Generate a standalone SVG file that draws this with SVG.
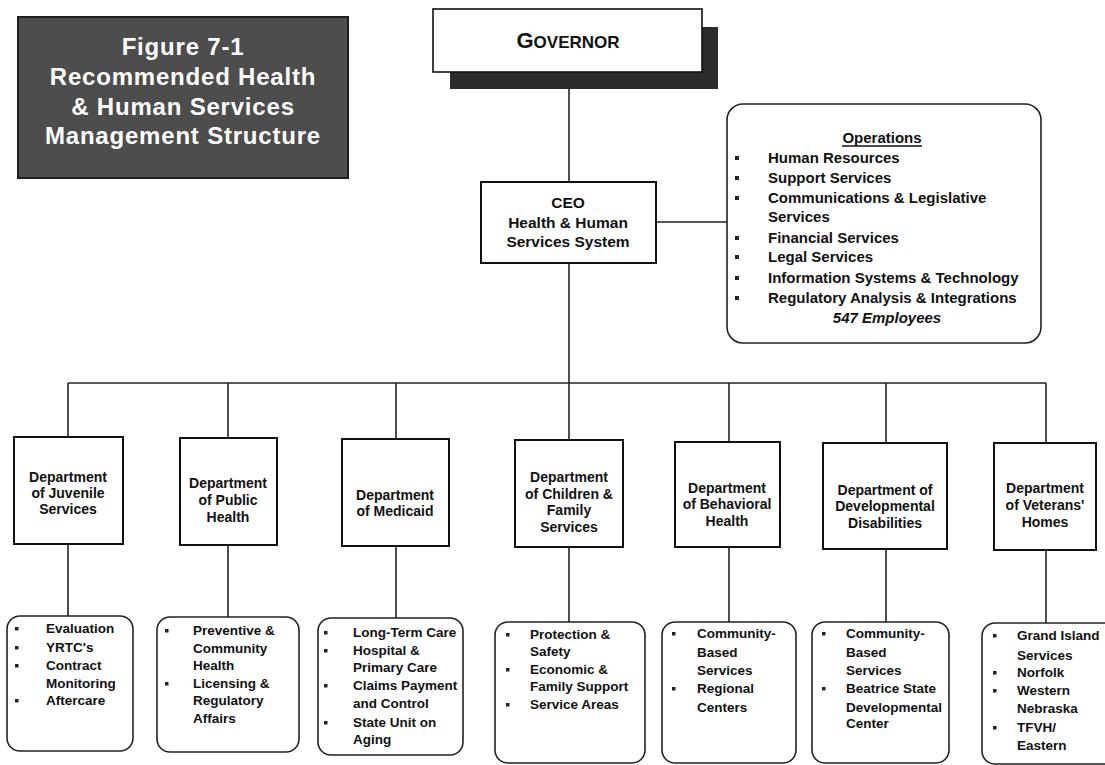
<svg xmlns="http://www.w3.org/2000/svg" width="1105" height="765" viewBox="0 0 1105 765">
<style>
text{font-family:"Liberation Sans",Arial,sans-serif;font-weight:bold;fill:#111}
.ttl{fill:#fff;font-size:24px;letter-spacing:0.8px;text-anchor:middle}
.c{text-anchor:middle}
.ceo{font-size:15.5px}
.ops{font-size:15px}
.dept{font-size:14px;text-anchor:middle}
.it{font-size:13.5px}
.box{fill:#fff;stroke:#111;stroke-width:2}
.rbox{fill:#fff;stroke:#222;stroke-width:1.6}
.ln{stroke:#222;stroke-width:1.6;fill:none}
.b{fill:#222}
</style>
<rect width="1105" height="765" fill="#fff"/>

<g id="connectors">
<line class="ln" x1="569" y1="89" x2="569" y2="182"/>
<line class="ln" x1="656" y1="222" x2="727" y2="222"/>
<line class="ln" x1="569" y1="263" x2="569" y2="383"/>
<line class="ln" x1="68" y1="383" x2="1046" y2="383"/>
<line class="ln" x1="68" y1="383" x2="68" y2="437"/>
<line class="ln" x1="228" y1="383" x2="228" y2="438"/>
<line class="ln" x1="396" y1="383" x2="396" y2="439"/>
<line class="ln" x1="569" y1="383" x2="569" y2="440"/>
<line class="ln" x1="729" y1="383" x2="729" y2="442"/>
<line class="ln" x1="886" y1="383" x2="886" y2="443"/>
<line class="ln" x1="1046" y1="383" x2="1046" y2="443"/>
<line class="ln" x1="68" y1="544" x2="68" y2="616"/>
<line class="ln" x1="228" y1="545" x2="228" y2="617"/>
<line class="ln" x1="396" y1="546" x2="396" y2="618"/>
<line class="ln" x1="569" y1="547" x2="569" y2="622"/>
<line class="ln" x1="729" y1="547" x2="729" y2="622"/>
<line class="ln" x1="886" y1="549" x2="886" y2="622"/>
<line class="ln" x1="1046" y1="550" x2="1046" y2="623"/>
</g>

<g id="title">
<rect x="18" y="17" width="330" height="161" fill="#4d4d4d" stroke="#1e1e1e" stroke-width="2"/>
<text class="ttl" x="183" y="55">Figure 7-1</text>
<text class="ttl" x="183" y="85">Recommended Health</text>
<text class="ttl" x="183" y="115">&amp; Human Services</text>
<text class="ttl" x="183" y="144">Management Structure</text>
</g>

<g id="governor">
<rect x="450" y="27" width="268" height="62" fill="#2b2b2b"/>
<rect x="433" y="9" width="269" height="63" fill="#fff" stroke="#111" stroke-width="1.6"/>
<text class="c" x="568" y="48" font-size="17"><tspan font-size="22">G</tspan>OVERNOR</text>
</g>

<g id="ceo">
<rect class="box" x="481" y="182" width="175" height="81"/>
<text class="c ceo" x="568" y="208">CEO</text>
<text class="c ceo" x="568" y="228">Health &amp; Human</text>
<text class="c ceo" x="568" y="247">Services System</text>
</g>

<g id="operations">
<rect class="rbox" x="727" y="104" width="314" height="239" rx="16"/>
<text class="c ops" x="882" y="143">Operations</text>
<line x1="842" y1="146" x2="922" y2="146" stroke="#111" stroke-width="1.3"/>
<rect class="b" x="735" y="156" width="4" height="4"/><text class="ops" x="768" y="163">Human Resources</text>
<rect class="b" x="735" y="176" width="4" height="4"/><text class="ops" x="768" y="183">Support Services</text>
<rect class="b" x="735" y="196" width="4" height="4"/><text class="ops" x="768" y="203">Communications &amp; Legislative</text>
<text class="ops" x="768" y="222">Services</text>
<rect class="b" x="735" y="236" width="4" height="4"/><text class="ops" x="768" y="243">Financial Services</text>
<rect class="b" x="735" y="255" width="4" height="4"/><text class="ops" x="768" y="262">Legal Services</text>
<rect class="b" x="735" y="276" width="4" height="4"/><text class="ops" x="768" y="283">Information Systems &amp; Technology</text>
<rect class="b" x="735" y="296" width="4" height="4"/><text class="ops" x="768" y="303">Regulatory Analysis &amp; Integrations</text>
<text class="c ops" x="887" y="323" font-style="italic">547 Employees</text>
</g>

<g id="dept-juvenile">
<rect class="box" x="14" y="437" width="109" height="107"/>
<text class="dept" x="68" y="482">Department</text>
<text class="dept" x="68" y="498">of Juvenile</text>
<text class="dept" x="68" y="514">Services</text>
</g>
<g id="dept-public-health">
<rect class="box" x="180" y="438" width="97" height="107"/>
<text class="dept" x="228" y="488">Department</text>
<text class="dept" x="228" y="505">of Public</text>
<text class="dept" x="228" y="522">Health</text>
</g>
<g id="dept-medicaid">
<rect class="box" x="342" y="439" width="107" height="107"/>
<text class="dept" x="395" y="500">Department</text>
<text class="dept" x="395" y="516">of Medicaid</text>
</g>
<g id="dept-children">
<rect class="box" x="515" y="440" width="108" height="107"/>
<text class="dept" x="569" y="482">Department</text>
<text class="dept" x="569" y="499">of Children &amp;</text>
<text class="dept" x="569" y="515">Family</text>
<text class="dept" x="569" y="532">Services</text>
</g>
<g id="dept-behavioral">
<rect class="box" x="675" y="442" width="105" height="105"/>
<text class="dept" x="727" y="493">Department</text>
<text class="dept" x="727" y="509">of Behavioral</text>
<text class="dept" x="727" y="526">Health</text>
</g>
<g id="dept-developmental">
<rect class="box" x="823" y="443" width="124" height="106"/>
<text class="dept" x="885" y="495">Department of</text>
<text class="dept" x="885" y="511">Developmental</text>
<text class="dept" x="885" y="528">Disabilities</text>
</g>
<g id="dept-veterans">
<rect class="box" x="994" y="443" width="102" height="107"/>
<text class="dept" x="1045" y="493">Department</text>
<text class="dept" x="1045" y="510">of Veterans'</text>
<text class="dept" x="1045" y="527">Homes</text>
</g>

<g id="list-juvenile">
<rect class="rbox" x="7" y="616" width="126" height="135" rx="13"/>
<rect class="b" x="15" y="627" width="3.5" height="3.5"/><text class="it" x="46" y="633">Evaluation</text>
<rect class="b" x="15" y="646" width="3.5" height="3.5"/><text class="it" x="46" y="652">YRTC's</text>
<rect class="b" x="15" y="664" width="3.5" height="3.5"/><text class="it" x="46" y="670">Contract</text>
<text class="it" x="46" y="688">Monitoring</text>
<rect class="b" x="15" y="699" width="3.5" height="3.5"/><text class="it" x="46" y="705">Aftercare</text>
</g>
<g id="list-public-health">
<rect class="rbox" x="157" y="617" width="142" height="135" rx="13"/>
<rect class="b" x="165" y="629" width="3.5" height="3.5"/><text class="it" x="193" y="635">Preventive &amp;</text>
<text class="it" x="193" y="653">Community</text>
<text class="it" x="193" y="670">Health</text>
<rect class="b" x="165" y="682" width="3.5" height="3.5"/><text class="it" x="193" y="688">Licensing &amp;</text>
<text class="it" x="193" y="705">Regulatory</text>
<text class="it" x="193" y="723">Affairs</text>
</g>
<g id="list-medicaid">
<rect class="rbox" x="318" y="618" width="145" height="137" rx="13"/>
<rect class="b" x="324" y="631" width="3.5" height="3.5"/><text class="it" x="353" y="637">Long-Term Care</text>
<rect class="b" x="324" y="649" width="3.5" height="3.5"/><text class="it" x="353" y="655">Hospital &amp;</text>
<text class="it" x="353" y="672">Primary Care</text>
<rect class="b" x="324" y="684" width="3.5" height="3.5"/><text class="it" x="353" y="690">Claims Payment</text>
<text class="it" x="353" y="708">and Control</text>
<rect class="b" x="324" y="721" width="3.5" height="3.5"/><text class="it" x="353" y="727">State Unit on</text>
<text class="it" x="353" y="744">Aging</text>
</g>
<g id="list-children">
<rect class="rbox" x="495" y="622" width="150" height="141" rx="13"/>
<rect class="b" x="506" y="633" width="3.5" height="3.5"/><text class="it" x="530" y="639">Protection &amp;</text>
<text class="it" x="530" y="656">Safety</text>
<rect class="b" x="506" y="668" width="3.5" height="3.5"/><text class="it" x="530" y="674">Economic &amp;</text>
<text class="it" x="530" y="691">Family Support</text>
<rect class="b" x="506" y="703" width="3.5" height="3.5"/><text class="it" x="530" y="709">Service Areas</text>
</g>
<g id="list-behavioral">
<rect class="rbox" x="662" y="622" width="134" height="141" rx="13"/>
<rect class="b" x="672" y="632" width="3.5" height="3.5"/><text class="it" x="697" y="638">Community-</text>
<text class="it" x="697" y="657">Based</text>
<text class="it" x="697" y="675">Services</text>
<rect class="b" x="672" y="687" width="3.5" height="3.5"/><text class="it" x="697" y="693">Regional</text>
<text class="it" x="697" y="712">Centers</text>
</g>
<g id="list-developmental">
<rect class="rbox" x="812" y="622" width="137" height="141" rx="13"/>
<rect class="b" x="822" y="632" width="3.5" height="3.5"/><text class="it" x="846" y="638">Community-</text>
<text class="it" x="846" y="657">Based</text>
<text class="it" x="846" y="675">Services</text>
<rect class="b" x="822" y="687" width="3.5" height="3.5"/><text class="it" x="846" y="693">Beatrice State</text>
<text class="it" x="846" y="712">Developmental</text>
<text class="it" x="846" y="728">Center</text>
</g>
<g id="list-veterans">
<rect class="rbox" x="982" y="623" width="135" height="141" rx="13"/>
<rect class="b" x="993" y="634" width="3.5" height="3.5"/><text class="it" x="1017" y="640">Grand Island</text>
<text class="it" x="1017" y="660">Services</text>
<rect class="b" x="993" y="671" width="3.5" height="3.5"/><text class="it" x="1017" y="677">Norfolk</text>
<rect class="b" x="993" y="689" width="3.5" height="3.5"/><text class="it" x="1017" y="695">Western</text>
<text class="it" x="1017" y="713">Nebraska</text>
<rect class="b" x="993" y="726" width="3.5" height="3.5"/><text class="it" x="1017" y="732">TFVH/</text>
<text class="it" x="1017" y="750">Eastern</text>
</g>
</svg>
